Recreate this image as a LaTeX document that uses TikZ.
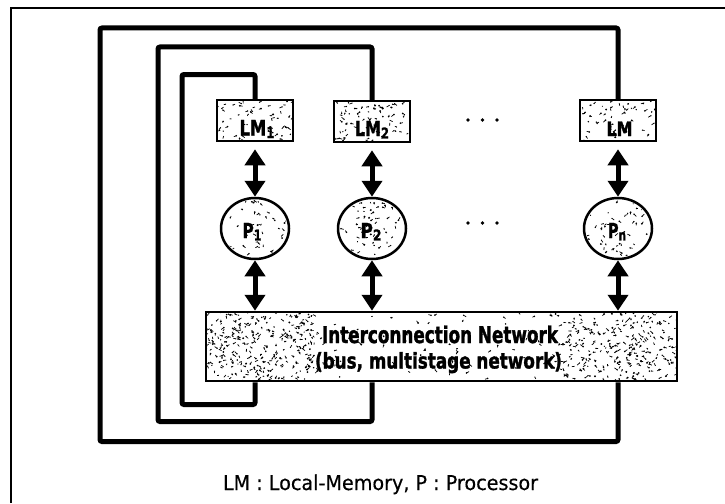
\documentclass[tikz,border=0pt]{standalone}
\usepackage{graphicx}
\usepackage{fontspec}
\setmainfont{DejaVu Sans}
\newfontfamily\heavyfont[FakeBold=1.6]{DejaVu Sans Bold}
\newfontfamily\legendfont[FakeBold=0.4]{DejaVu Sans}
\usetikzlibrary{arrows.meta,shapes.geometric}

% scaled label: width, cap height, text
\newcommand\fitlabel[3]{\resizebox{#1}{#2}{#3}}
% index set slightly below the baseline, a little smaller than the letters
\newcommand\idx[1]{\raisebox{-0.12em}{\scalebox{0.72}{#1}}}
% random speckle texture inside a rectangle x1 y1 x2 y2, count
\newcommand\specks[5]{%
  \foreach \k in {1,...,#5}{%
    \pgfmathsetmacro\spx{#1+rnd*(#3-#1)}%
    \pgfmathsetmacro\spy{#2+rnd*(#4-#2)}%
    \pgfmathsetmacro\spdx{(rnd-0.5)*5.5}%
    \pgfmathsetmacro\spdy{(rnd-0.5)*4.5}%
    \pgfmathsetmacro\spr{0.45+0.6*rnd}%
    \fill (\spx,\spy) circle[radius=\spr];
    \draw[line width=0.7pt] (\spx,\spy) -- ++(\spdx,\spdy);
  }}

\begin{document}
\begin{tikzpicture}[x=1pt,y=-1pt,
  ringline/.style={line width=5pt, rounded corners=2pt},
  membox/.style={draw, line width=2.5pt, fill=white, inner sep=0pt,
    minimum width=76pt, minimum height=41pt},
  procnode/.style={ellipse, draw, line width=2.5pt, fill=white, inner sep=0pt,
    minimum width=68pt, minimum height=61pt},
  netbox/.style={draw, line width=2.5pt, fill=white, inner sep=0pt,
    minimum width=471pt, minimum height=69pt},
  biarrow/.style={line width=5pt,
    {Triangle[width=20pt,length=16pt]}-{Triangle[width=20pt,length=16pt]}},
  lbl/.style={anchor=base, inner sep=0pt},
  dot/.style={circle, fill=black, inner sep=0pt, minimum size=3.8pt}]
\useasboundingbox (0,0) rectangle (725,503);
\pgfmathsetseed{7}

% page frame
\draw[line width=2pt] (11,503) -- (11,8) -- (725,8);

% memories, processors, network
\node[membox] (lm1) at (255,120.5) {};
\node[membox] (lm2) at (372,121.5) {};
\node[membox] (lmn) at (618,120.5) {};
\node[procnode] (p1) at (255,228.5) {};
\node[procnode] (p2) at (372,228.5) {};
\node[procnode] (pn) at (618,228.5) {};
\node[netbox] (net) at (441.5,346.5) {};

% surface texture
\begin{scope}
  \clip ([shift={(2.5,-2.5)}]lm1.south west) rectangle ([shift={(-2.5,2.5)}]lm1.north east);
  \specks{217}{99}{295}{143}{60}
\end{scope}
\begin{scope}
  \clip ([shift={(2.5,-2.5)}]lm2.south west) rectangle ([shift={(-2.5,2.5)}]lm2.north east);
  \specks{333}{100}{411}{144}{75}
\end{scope}
\begin{scope}
  \clip ([shift={(2.5,-2.5)}]lmn.south west) rectangle ([shift={(-2.5,2.5)}]lmn.north east);
  \specks{579}{99}{658}{143}{65}
\end{scope}
\begin{scope}
  \clip (p1.center) ellipse [x radius=32, y radius=28.5];
  \specks{220}{198}{290}{260}{50}
\end{scope}
\begin{scope}
  \clip (p2.center) ellipse [x radius=32, y radius=28.5];
  \specks{337}{198}{407}{260}{70}
\end{scope}
\begin{scope}
  \clip (pn.center) ellipse [x radius=32, y radius=28.5];
  \specks{583}{198}{653}{260}{65}
\end{scope}
\begin{scope}
  \clip ([shift={(2.5,-2.5)}]net.south west) rectangle ([shift={(-2.5,2.5)}]net.north east);
  \specks{205}{311}{678}{382}{170}
  \specks{205}{311}{318}{382}{300}
  \specks{560}{311}{678}{382}{260}
\end{scope}

% labels
\node[lbl] (lm1t) at (257,135.5) {\fitlabel{35pt}{15.5pt}{\heavyfont LM\idx{1}}};
\node[lbl] (lm2t) at (372,136) {\fitlabel{34pt}{15pt}{\heavyfont LM\idx{2}}};
\node[lbl] (lmnt) at (619.5,136) {\fitlabel{26pt}{14.5pt}{\heavyfont LM}};
\node[lbl] (p1t) at (252,238) {\fitlabel{19pt}{15pt}{\heavyfont P\idx{1}}};
\node[lbl] (p2t) at (371,238) {\fitlabel{21pt}{15pt}{\heavyfont P\idx{2}}};
\node[lbl] (pnt) at (617,238) {\fitlabel{18pt}{15pt}{\heavyfont P\idx{n}}};
\node[lbl] (net1) at (440,343) {\fitlabel{236pt}{17.5pt}{\heavyfont Interconnection Network}};
\node[lbl] (net2) at (438.5,368.5) {\fitlabel{247pt}{16.5pt}{\heavyfont (bus, multistage network)}};

% ellipsis marks
\foreach \yy/\nm in {120/a,223/b}{
  \node[dot] (d\nm1) at (468,\yy) {};
  \node[dot] (d\nm2) at (482.5,\yy) {};
  \node[dot] (d\nm3) at (497,\yy) {};
}

% memory <-> processor <-> network
\draw[biarrow, shorten <=7pt] (lm1.south) -- (p1.north);
\draw[biarrow, shorten <=7pt] (lm2.south) -- (p2.north);
\draw[biarrow, shorten <=7pt] (lmn.south) -- (pn.north);
\draw[biarrow] (p1.south) -- (net.north -| p1.south);
\draw[biarrow] (p2.south) -- (net.north -| p2.south);
\draw[biarrow] (pn.south) -- (net.north -| pn.south);

% feedback loops from the network back to each memory
\draw[ringline] (lm1.north) -- (lm1.north |- 0,74.5) -| (182,404.5) -| (net.south -| lm1.north);
\draw[ringline] (lm2.north) -- (lm2.north |- 0,47) -| (158,421.5) -| (net.south -| lm2.north);
\draw[ringline] (lmn.north) -- (lmn.north |- 0,28) -| (100,441.5) -| (net.south -| lmn.north);

% legend
\node[lbl] (legend) at (380.5,490) {\fitlabel{315pt}{15.5pt}{\legendfont LM : Local-Memory, P : Processor}};
\end{tikzpicture}
\end{document}
